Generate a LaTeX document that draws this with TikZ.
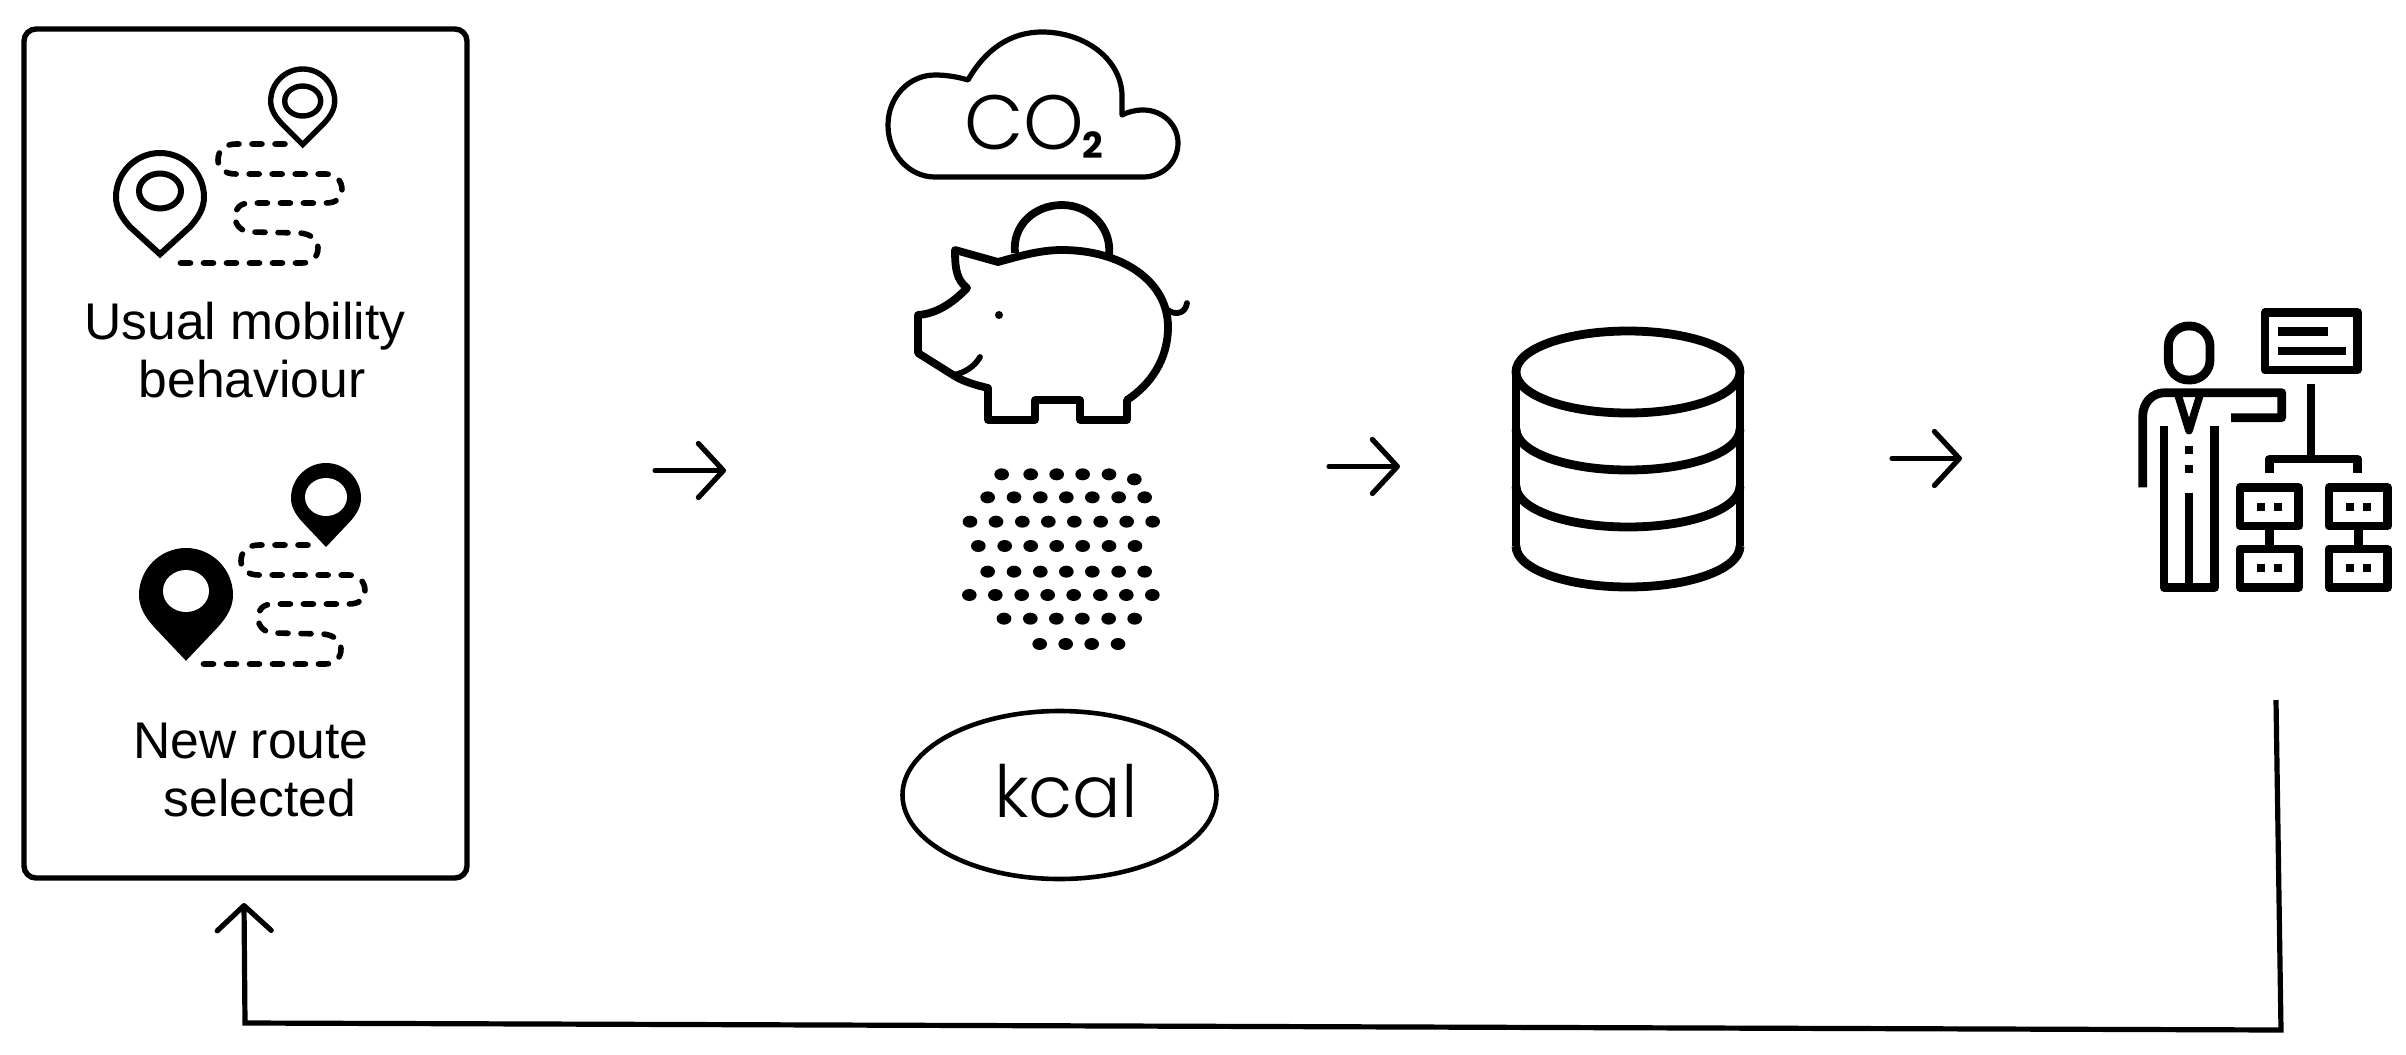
\documentclass[tikz,border=0pt]{standalone}
\usepackage{fontspec}
\setmainfont{Liberation Sans}
\newfontfamily\thinfont{Poppins Light}
\newfontfamily\heavyfont{Poppins Bold}
\usetikzlibrary{arrows.meta,shapes.geometric}
\tikzset{
  icon/.style={draw=black,line join=round},
  panelbox/.style={draw=black,line width=2.7pt,rounded corners=6pt,minimum width=221.5pt,minimum height=424.5pt,inner sep=0pt},
  caption/.style={font=\fontsize{25.8}{29}\selectfont,align=center,text=black,inner sep=0pt},
  route/.style={draw=black,line width=2.8pt,line cap=round,dash pattern=on 5pt off 6.5pt},
  flow/.style={draw=black,line width=2.6pt,line cap=round,-{Straight Barb[length=12.5pt,width=27pt,line width=2.6pt,round]}},
  pinoutline/.style={draw=black,line width=3pt,miter limit=10},
}
\newcommand{\pinpath}[1]{(0,#1) -- (-0.68,0.68) .. controls (-0.88,0.46) and (-1,0.25) .. (-1,0) .. controls (-1,-0.55) and (-0.55,-1) .. (0,-1) .. controls (0.55,-1) and (1,-0.55) .. (1,0) .. controls (1,0.25) and (0.88,0.46) .. (0.68,0.68) -- cycle}
\newcommand{\routepath}{(285,144) -- (236,144) .. controls (224,144) and (218,151) .. (218,160) .. controls (218,168) and (224,174) .. (236,174) -- (326,174) .. controls (336,174) and (342,181) .. (342,190) .. controls (342,198) and (336,203) .. (326,203) -- (250,203) .. controls (240,203) and (235,209) .. (235,216) .. controls (235,226) and (242,232) .. (252,232) -- (300,233) .. controls (312,234) and (318,241) .. (318,248) .. controls (318,257) and (312,263) .. (302,263) -- (171,263)}
\begin{document}
\begin{tikzpicture}[x=0.5pt,y=-0.5pt]
\useasboundingbox (0,0) rectangle (2406,1055);
% left panel
\node[panelbox] (panel) at (245.5,453.5) {};
% outline pins
\begin{scope}[shift={(160,197)},scale=44]
  \draw[pinoutline] \pinpath{1.3};
\end{scope}
\node[draw=black,line width=3pt,ellipse,minimum width=21pt,minimum height=17.5pt,inner sep=0pt] (ringa) at (160,191) {};
\begin{scope}[shift={(302.7,101)},scale=32]
  \draw[pinoutline,line width=2.7pt] \pinpath{1.36};
\end{scope}
\node[draw=black,line width=2.7pt,ellipse,minimum width=18pt,minimum height=15pt,inner sep=0pt] (ringb) at (302.7,101) {};
\path[route] \routepath;
\node[caption] (usual) at (245,350) {Usual mobility\\\hspace{7pt}behaviour};
% filled pins
\begin{scope}[shift={(186,595)},scale=47]
  \fill[black] \pinpath{1.4};
\end{scope}
\fill[white] (186,591) ellipse (23 and 21);
\begin{scope}[shift={(326,498)},scale=35]
  \fill[black] \pinpath{1.4};
\end{scope}
\fill[white] (326,497) ellipse (21 and 19);
\begin{scope}[shift={(23,401)}]
  \path[route] \routepath;
\end{scope}
\node[caption] (newroute) at (251,770) {New route\\\hspace{9pt}selected};
% cloud
\draw[icon,line width=2.6pt] (968,80) .. controls (985,50) and (1010,32) .. (1042,32) .. controls (1085,32) and (1124,60) .. (1122,100) -- (1122,115) .. controls (1128,112) and (1135,110) .. (1143,110) .. controls (1163,110) and (1178,125) .. (1178,143) .. controls (1178,162) and (1163,177) .. (1143,177) -- (935,177) .. controls (909,177) and (888,154) .. (888,125) .. controls (888,97) and (909,75) .. (935,75) .. controls (947,75) and (958,77) .. (968,80) -- cycle;
\node[anchor=base west,inner sep=0pt,text=black] (cotwo) at (964,149) {\thinfont\fontsize{38.5}{38.5}\selectfont CO\kern-0.8pt\raisebox{-4.5pt}{\heavyfont\fontsize{18}{18}\selectfont 2}};
% piggy bank
\draw[icon,line width=3.9pt] (1015,253) .. controls (1012,225) and (1035,205) .. (1062,205) .. controls (1090,205) and (1112,228) .. (1109,255);
\draw[icon,line width=3.9pt,fill=white] (955,250) -- (998,262) .. controls (1020,256) and (1040,250) .. (1062,250) .. controls (1120,250) and (1168,280) .. (1168,327) .. controls (1168,360) and (1150,385) .. (1127,400) -- (1127,420) -- (1080,420) -- (1080,400) -- (1035,400) -- (1035,420) -- (988,420) -- (988,388) .. controls (975,385) and (962,381) .. (953,375) -- (918,353) -- (918,315) .. controls (935,314) and (952,304) .. (967,288) .. controls (957,280) and (955,270) .. (955,250) -- cycle;
\draw[icon,line width=2.9pt,line cap=round] (953,375) .. controls (965,373) and (975,366) .. (980,357);
\draw[icon,line width=2.9pt,line cap=round] (1168,310) .. controls (1172,314) and (1185,316) .. (1187,303);
\fill[black] (999,315) circle (4);
% dots
\begin{scope}[shift={(920,440)},scale=0.33333]
  \foreach \yy/\xs in {103/{245,332,410,488,567},118/{643},172/{203,282,361,439,517,596,674},245/{150,228,307,385,463,542,620,698},318/{175,254,332,410,488,567,645},395/{203,282,361,439,517,596,674},465/{148,226,305,383,461,541,619,697},536/{252,331,409,487,566,644},612/{359,437,515,594}}
    \foreach \xx in \xs \fill[black] (\xx,\yy) ellipse (22 and 18);
\end{scope}
% kcal
\node[draw=black,line width=2.3pt,ellipse,minimum width=157pt,minimum height=84pt,inner sep=0pt] (kcalring) at (1059.5,795) {};
\node[anchor=base,inner sep=0pt,text=black,font=\thinfont\fontsize{36}{36}\selectfont] (kcal) at (1066,817) {kcal};
% database
\draw[icon,line width=4.4pt] (1516,372) .. controls (1516,349) and (1566,331) .. (1628,331) .. controls (1690,331) and (1740,349) .. (1740,372) .. controls (1740,395) and (1690,413) .. (1628,413) .. controls (1566,413) and (1516,395) .. (1516,372) -- cycle;
\draw[icon,line width=4.4pt] (1516,372) -- (1516,546);
\draw[icon,line width=4.4pt] (1740,372) -- (1740,546);
\foreach \yy in {429,486,546}
  \draw[icon,line width=4.4pt] (1516,\yy) .. controls (1516,\yy+23) and (1566,\yy+41) .. (1628,\yy+41) .. controls (1690,\yy+41) and (1740,\yy+23) .. (1740,\yy);
% presenter
\begin{scope}[shift={(2100,290)},scale=0.33333]
  \tikzset{stroke/.style={draw=black,line width=4.4pt,line join=round}}
  \draw[stroke,rounded corners=10pt] (205,108) rectangle (330,270);
  \draw[stroke] (128,592) -- (128,380) .. controls (128,340) and (155,308) .. (195,308) -- (545,308) -- (545,383) -- (393,383);
  \draw[stroke,line width=3.8pt] (232,308) -- (267,422) -- (302,308);
  \draw[stroke] (192,408) -- (192,892) -- (344,892) -- (344,408);
  \draw[stroke] (267,608) -- (267,892);
  \fill[black] (254,467) rectangle (280,493);
  \fill[black] (254,524) rectangle (280,550);
  \draw[stroke] (495,68) rectangle (773,240);
  \draw[stroke] (535,125) -- (685,125);
  \draw[stroke] (535,183) -- (737,183);
  \draw[stroke] (633,283) -- (633,507);
  \draw[stroke] (508,550) -- (508,507) -- (773,507) -- (773,550);
  \foreach \bx in {420,687} \foreach \by in {593,777} {
    \draw[stroke] (\bx,\by) rectangle (\bx+176,\by+115);
    \fill[black] (\bx+51,\by+45) rectangle (\bx+75,\by+70);
    \fill[black] (\bx+103,\by+45) rectangle (\bx+127,\by+70);
  }
  \draw[stroke] (508,708) -- (508,777);
  \draw[stroke] (775,708) -- (775,777);
\end{scope}
% connectors
\coordinate (aonefrom) at (655,470.5);
\coordinate (aoneto) at (726,470.5);
\coordinate (atwofrom) at (1329,466.5);
\coordinate (atwoto) at (1400,466.5);
\coordinate (athreefrom) at (1892,458.5);
\coordinate (athreeto) at (1962,458.5);
\coordinate (fbstart) at (2276,700);
\coordinate (fbright) at (2281,1030);
\coordinate (fbleft) at (245,1023);
\coordinate (fbend) at (244,903);
\draw[flow] (aonefrom) -- (aoneto);
\draw[flow] (atwofrom) -- (atwoto);
\draw[flow] (athreefrom) -- (athreeto);
\draw[flow,line cap=butt,line join=miter] (fbstart) -- (fbright) -- (fbleft) -- (fbend);
\end{tikzpicture}
\end{document}
